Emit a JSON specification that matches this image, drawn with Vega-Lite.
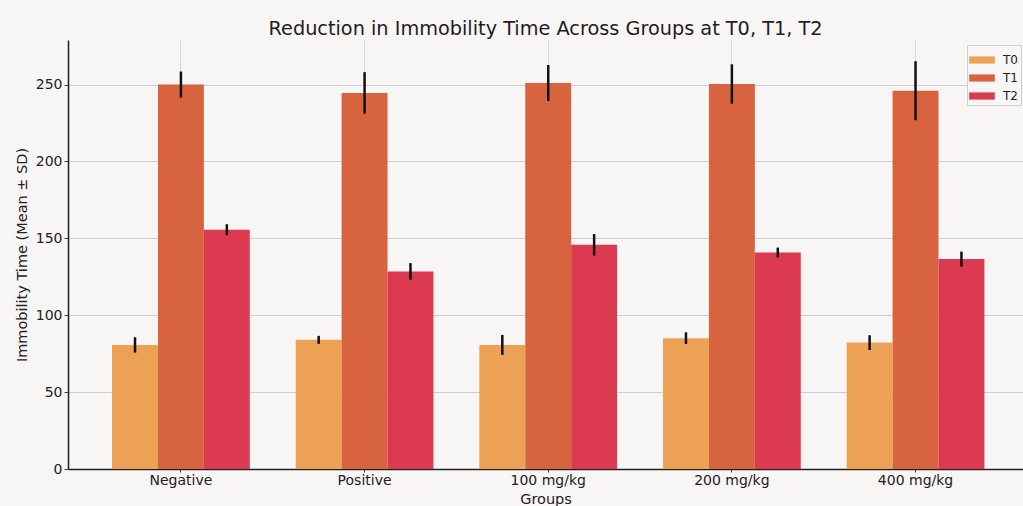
{
  "$schema": "https://vega.github.io/schema/vega-lite/v6.json",
  "width": 955,
  "height": 429,
  "autosize": "none",
  "padding": {"left": 68, "top": 40, "right": 0, "bottom": 37},
  "background": "#f8f5f5",
  "title": {"text": "Reduction in Immobility Time Across Groups at T0, T1, T2", "font": "DejaVu Sans", "fontSize": 19.3, "fontWeight": "normal", "color": "#1e1e1e", "offset": 1},
  "config": {
    "view": {"stroke": null},
    "axis": {"labelFont": "DejaVu Sans", "titleFont": "DejaVu Sans", "labelFontSize": 14, "titleFontSize": 14.5, "titleFontWeight": "normal", "labelColor": "#222222", "titleColor": "#222222", "domainColor": "#222222", "domainWidth": 1.5, "tickColor": "#444444", "tickSize": 4, "gridColor": "#c9cedb", "gridWidth": 1}
  },
  "data": {"values": [
    {"group": "Negative", "time": "T0", "mean": 80.7, "sd": 5.0},
    {"group": "Negative", "time": "T1", "mean": 250.0, "sd": 8.5},
    {"group": "Negative", "time": "T2", "mean": 155.6, "sd": 3.6},
    {"group": "Positive", "time": "T0", "mean": 84.0, "sd": 2.6},
    {"group": "Positive", "time": "T1", "mean": 244.6, "sd": 13.5},
    {"group": "Positive", "time": "T2", "mean": 128.5, "sd": 5.4},
    {"group": "100 mg/kg", "time": "T0", "mean": 80.7, "sd": 6.5},
    {"group": "100 mg/kg", "time": "T1", "mean": 251.0, "sd": 11.7},
    {"group": "100 mg/kg", "time": "T2", "mean": 145.8, "sd": 7.0},
    {"group": "200 mg/kg", "time": "T0", "mean": 85.1, "sd": 3.8},
    {"group": "200 mg/kg", "time": "T1", "mean": 250.4, "sd": 12.8},
    {"group": "200 mg/kg", "time": "T2", "mean": 140.8, "sd": 3.2},
    {"group": "400 mg/kg", "time": "T0", "mean": 82.2, "sd": 4.8},
    {"group": "400 mg/kg", "time": "T1", "mean": 246.0, "sd": 19.2},
    {"group": "400 mg/kg", "time": "T2", "mean": 136.5, "sd": 4.9}
  ]},
  "encoding": {
    "x": {"field": "group", "type": "nominal", "sort": ["Negative", "Positive", "100 mg/kg", "200 mg/kg", "400 mg/kg"],
      "scale": {"paddingInner": 0.25, "paddingOuter": 0.225, "align": 0.533},
      "axis": {"title": "Groups", "labelAngle": 0, "bandPosition": 0.5, "grid": true, "gridColor": "#d3d6df", "tickSize": 3, "labelPadding": 1, "titlePadding": 5}},
    "xOffset": {"field": "time", "type": "nominal", "sort": ["T0", "T1", "T2"], "scale": {"paddingInner": 0, "paddingOuter": 0}},
    "y": {"field": "mean", "type": "quantitative",
      "scale": {"domain": [0, 279], "nice": false, "zero": true},
      "axis": {"title": "Immobility Time (Mean ± SD)", "values": [0, 50, 100, 150, 200, 250], "grid": true, "labelPadding": 2, "titlePadding": 6}}
  },
  "layer": [
    {
      "mark": {"type": "bar"},
      "encoding": {
        "color": {"field": "time", "type": "nominal", "sort": ["T0", "T1", "T2"],
          "scale": {"domain": ["T0", "T1", "T2"], "range": ["#eda155", "#d8643f", "#dc3a50"]},
          "legend": {"title": null, "orient": "none", "legendX": 899, "legendY": 5, "fillColor": "#f8f5f5", "strokeColor": "#cfcfcf", "padding": 3, "labelFont": "DejaVu Sans", "labelFontSize": 12, "labelColor": "#1e1e1e", "labelOffset": 9, "symbolType": "M-1.07,-0.3H1.07V0.3H-1.07Z", "symbolSize": 576, "symbolStrokeWidth": 0, "symbolOpacity": 1, "rowPadding": 0}}
      }
    },
    {
      "mark": {"type": "errorbar", "color": "#111111", "thickness": 2.5},
      "encoding": {"yError": {"field": "sd"}}
    }
  ]
}
